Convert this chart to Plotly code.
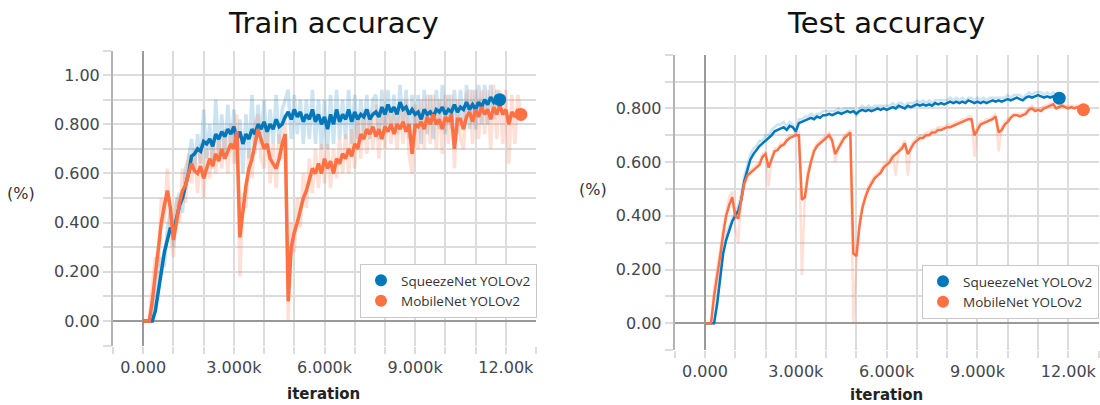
import plotly.graph_objects as go

# ---- data -----------------------------------------------------------------
STEP = 100  # iterations between logged points

# Train accuracy, SqueezeNet YOLOv2 (smoothed / raw)
train_sq_smooth = [
    0.00, 0.00, 0.00, 0.00, 0.04, 0.12, 0.22, 0.28, 0.33, 0.38,
    0.36, 0.42, 0.47, 0.50, 0.55, 0.60, 0.67, 0.68, 0.70, 0.69,
    0.73, 0.72, 0.74, 0.71, 0.76, 0.74, 0.77, 0.75, 0.78, 0.76,
    0.79, 0.74, 0.77, 0.72, 0.76, 0.74, 0.78, 0.76, 0.80, 0.78,
    0.81, 0.77, 0.80, 0.78, 0.82, 0.79, 0.80, 0.83, 0.85, 0.82,
    0.86, 0.83, 0.85, 0.81, 0.84, 0.82, 0.86, 0.81, 0.84, 0.80,
    0.83, 0.78, 0.84, 0.80, 0.86, 0.81, 0.84, 0.82, 0.86, 0.81,
    0.85, 0.82, 0.84, 0.83, 0.86, 0.82, 0.84, 0.85, 0.83, 0.87,
    0.84, 0.88, 0.85, 0.87, 0.84, 0.89, 0.86, 0.87, 0.84, 0.86,
    0.84, 0.85, 0.82, 0.86, 0.84, 0.85, 0.83, 0.86, 0.85, 0.87,
    0.84, 0.86, 0.85, 0.88, 0.85, 0.87, 0.86, 0.89, 0.86, 0.88,
    0.86, 0.89, 0.87, 0.90, 0.88, 0.91, 0.89, 0.91, 0.90,
]
train_sq_raw = [
    0.00, 0.00, 0.00, 0.00, 0.08, 0.18, 0.26, 0.22, 0.38, 0.44,
    0.30, 0.48, 0.52, 0.44, 0.62, 0.66, 0.74, 0.62, 0.76, 0.64,
    0.86, 0.66, 0.80, 0.62, 0.90, 0.68, 0.84, 0.66, 0.88, 0.70,
    0.86, 0.64, 0.82, 0.60, 0.84, 0.66, 0.92, 0.68, 0.88, 0.72,
    0.90, 0.70, 0.86, 0.72, 0.92, 0.72, 0.86, 0.90, 0.94, 0.74,
    0.92, 0.76, 0.90, 0.72, 0.90, 0.74, 0.94, 0.72, 0.90, 0.70,
    0.90, 0.70, 0.92, 0.72, 0.94, 0.74, 0.90, 0.74, 0.94, 0.72,
    0.92, 0.74, 0.90, 0.76, 0.92, 0.74, 0.90, 0.92, 0.74, 0.94,
    0.76, 0.94, 0.78, 0.92, 0.76, 0.96, 0.78, 0.94, 0.74, 0.92,
    0.76, 0.92, 0.72, 0.94, 0.76, 0.92, 0.74, 0.94, 0.78, 0.96,
    0.76, 0.92, 0.78, 0.94, 0.76, 0.94, 0.78, 0.96, 0.78, 0.94,
    0.78, 0.96, 0.80, 0.96, 0.80, 0.96, 0.82, 0.94, 0.88,
]

# Train accuracy, MobileNet YOLOv2 (smoothed / raw)
train_mb_smooth = [
    0.00, 0.00, 0.00, 0.08, 0.18, 0.30, 0.40, 0.47, 0.53, 0.46,
    0.33, 0.40, 0.48, 0.53, 0.55, 0.60, 0.64, 0.61, 0.60, 0.63,
    0.58, 0.62, 0.66, 0.63, 0.68, 0.65, 0.70, 0.66, 0.69, 0.72,
    0.70, 0.77, 0.34, 0.45, 0.55, 0.62, 0.66, 0.72, 0.78, 0.74,
    0.70, 0.72, 0.66, 0.64, 0.62, 0.66, 0.72, 0.76, 0.08, 0.30,
    0.36, 0.40, 0.45, 0.50, 0.53, 0.57, 0.62, 0.60, 0.64, 0.60,
    0.66, 0.62, 0.65, 0.60, 0.66, 0.64, 0.68, 0.66, 0.70, 0.67,
    0.72, 0.70, 0.76, 0.74, 0.78, 0.76, 0.79, 0.75, 0.78, 0.74,
    0.79, 0.77, 0.80, 0.76, 0.80, 0.78, 0.81, 0.77, 0.80, 0.68,
    0.80, 0.79, 0.81, 0.78, 0.83, 0.80, 0.84, 0.80, 0.82, 0.78,
    0.83, 0.81, 0.84, 0.70, 0.82, 0.82, 0.78, 0.83, 0.85, 0.81,
    0.86, 0.83, 0.87, 0.84, 0.86, 0.82, 0.87, 0.84, 0.88, 0.84,
    0.86, 0.80, 0.85, 0.83, 0.86, 0.84,
]
train_mb_raw = [
    0.00, 0.00, 0.00, 0.14, 0.26, 0.22, 0.50, 0.40, 0.62, 0.36,
    0.26, 0.50, 0.40, 0.62, 0.48, 0.68, 0.56, 0.70, 0.52, 0.72,
    0.50, 0.70, 0.58, 0.74, 0.60, 0.76, 0.62, 0.78, 0.60, 0.80,
    0.64, 0.84, 0.18, 0.52, 0.46, 0.70, 0.58, 0.80, 0.84, 0.66,
    0.62, 0.80, 0.56, 0.72, 0.54, 0.76, 0.66, 0.84, 0.00, 0.40,
    0.28, 0.50, 0.38, 0.60, 0.46, 0.66, 0.52, 0.70, 0.54, 0.72,
    0.56, 0.72, 0.54, 0.70, 0.58, 0.74, 0.60, 0.76, 0.60, 0.78,
    0.62, 0.84, 0.66, 0.86, 0.68, 0.86, 0.70, 0.88, 0.66, 0.86,
    0.70, 0.88, 0.72, 0.86, 0.70, 0.88, 0.72, 0.90, 0.68, 0.60,
    0.88, 0.70, 0.90, 0.70, 0.92, 0.72, 0.92, 0.70, 0.90, 0.68,
    0.92, 0.72, 0.92, 0.62, 0.90, 0.74, 0.70, 0.92, 0.94, 0.72,
    0.94, 0.74, 0.94, 0.76, 0.94, 0.70, 0.96, 0.74, 0.94, 0.72,
    0.94, 0.64, 0.92, 0.72, 0.92, 0.84,
]

# Test accuracy, SqueezeNet YOLOv2 (smoothed / raw)
test_sq_smooth = [
    0.00, 0.00, 0.00, 0.00, 0.07, 0.17, 0.26, 0.31, 0.35, 0.38,
    0.40, 0.42, 0.46, 0.53, 0.57, 0.61, 0.63, 0.645, 0.66, 0.67,
    0.68, 0.69, 0.70, 0.715, 0.72, 0.725, 0.73, 0.72, 0.735, 0.73,
    0.715, 0.745, 0.75, 0.755, 0.76, 0.765, 0.76, 0.77, 0.765, 0.775,
    0.775, 0.78, 0.775, 0.78, 0.785, 0.78, 0.785, 0.79, 0.785, 0.79,
    0.78, 0.79, 0.795, 0.79, 0.795, 0.79, 0.795, 0.80, 0.795, 0.80,
    0.795, 0.80, 0.805, 0.80, 0.81, 0.805, 0.80, 0.81, 0.805, 0.81,
    0.815, 0.81, 0.815, 0.81, 0.815, 0.81, 0.82, 0.815, 0.82, 0.815,
    0.82, 0.825, 0.82, 0.825, 0.82, 0.825, 0.82, 0.83, 0.825, 0.82,
    0.825, 0.82, 0.825, 0.82, 0.825, 0.83, 0.825, 0.83, 0.825, 0.83,
    0.835, 0.83, 0.835, 0.84, 0.835, 0.83, 0.84, 0.845, 0.84, 0.845,
    0.85, 0.845, 0.84, 0.845, 0.84, 0.845, 0.84, 0.838,
]
test_sq_raw = [
    0.00, 0.00, 0.00, 0.00, 0.10, 0.20, 0.28, 0.33, 0.36, 0.39,
    0.41, 0.44, 0.48, 0.55, 0.59, 0.63, 0.65, 0.66, 0.68, 0.68,
    0.70, 0.70, 0.72, 0.73, 0.74, 0.74, 0.75, 0.73, 0.75, 0.74,
    0.70, 0.76, 0.76, 0.77, 0.77, 0.78, 0.77, 0.78, 0.78, 0.79,
    0.79, 0.79, 0.79, 0.79, 0.80, 0.79, 0.80, 0.80, 0.80, 0.80,
    0.77, 0.80, 0.81, 0.80, 0.81, 0.80, 0.81, 0.81, 0.81, 0.81,
    0.81, 0.81, 0.82, 0.81, 0.82, 0.82, 0.81, 0.82, 0.82, 0.82,
    0.83, 0.82, 0.83, 0.82, 0.83, 0.82, 0.83, 0.83, 0.83, 0.83,
    0.83, 0.84, 0.83, 0.84, 0.83, 0.84, 0.83, 0.84, 0.84, 0.83,
    0.84, 0.83, 0.84, 0.83, 0.84, 0.84, 0.84, 0.84, 0.84, 0.84,
    0.85, 0.84, 0.85, 0.85, 0.85, 0.84, 0.85, 0.86, 0.85, 0.86,
    0.86, 0.86, 0.85, 0.86, 0.85, 0.86, 0.85, 0.85,
]

# Test accuracy, MobileNet YOLOv2 (smoothed / raw)
test_mb_smooth = [
    0.00, 0.00, 0.00, 0.10, 0.17, 0.25, 0.33, 0.40, 0.44, 0.47,
    0.40, 0.39, 0.46, 0.52, 0.55, 0.56, 0.57, 0.58, 0.59, 0.62,
    0.63, 0.58, 0.61, 0.64, 0.645, 0.66, 0.665, 0.68, 0.69, 0.695,
    0.70, 0.70, 0.46, 0.47, 0.55, 0.60, 0.64, 0.66, 0.67, 0.68,
    0.69, 0.70, 0.68, 0.63, 0.65, 0.67, 0.69, 0.70, 0.71, 0.26,
    0.25, 0.36, 0.43, 0.47, 0.50, 0.52, 0.54, 0.55, 0.56, 0.58,
    0.59, 0.60, 0.62, 0.63, 0.64, 0.65, 0.67, 0.63, 0.65, 0.67,
    0.68, 0.69, 0.69, 0.70, 0.70, 0.71, 0.71, 0.72, 0.72, 0.725,
    0.73, 0.73, 0.735, 0.74, 0.745, 0.75, 0.755, 0.76, 0.76, 0.70,
    0.72, 0.74, 0.745, 0.75, 0.755, 0.76, 0.77, 0.71, 0.72, 0.74,
    0.75, 0.765, 0.775, 0.775, 0.77, 0.775, 0.78, 0.795, 0.80, 0.79,
    0.795, 0.79, 0.80, 0.805, 0.81, 0.815, 0.80, 0.805, 0.81, 0.805,
    0.80, 0.805, 0.80, 0.805, 0.80, 0.795,
]
test_mb_raw = [
    0.00, 0.00, 0.00, 0.13, 0.20, 0.27, 0.36, 0.42, 0.47, 0.49,
    0.36, 0.30, 0.48, 0.53, 0.56, 0.57, 0.58, 0.59, 0.60, 0.63,
    0.64, 0.51, 0.62, 0.65, 0.65, 0.67, 0.67, 0.69, 0.70, 0.70,
    0.71, 0.71, 0.18, 0.48, 0.57, 0.61, 0.65, 0.67, 0.68, 0.69,
    0.70, 0.71, 0.69, 0.60, 0.66, 0.68, 0.70, 0.71, 0.72, 0.00,
    0.22, 0.38, 0.44, 0.48, 0.51, 0.53, 0.55, 0.56, 0.57, 0.59,
    0.60, 0.61, 0.63, 0.55, 0.65, 0.66, 0.68, 0.55, 0.66, 0.68,
    0.69, 0.70, 0.70, 0.71, 0.71, 0.72, 0.72, 0.73, 0.73, 0.73,
    0.74, 0.74, 0.74, 0.75, 0.75, 0.76, 0.76, 0.77, 0.77, 0.62,
    0.73, 0.75, 0.75, 0.76, 0.76, 0.77, 0.78, 0.64, 0.73, 0.75,
    0.76, 0.77, 0.78, 0.78, 0.78, 0.78, 0.79, 0.80, 0.81, 0.80,
    0.80, 0.80, 0.81, 0.81, 0.82, 0.82, 0.81, 0.81, 0.82, 0.81,
    0.81, 0.81, 0.81, 0.81, 0.81, 0.80,
]

x_tickvals = [0, 3000, 6000, 9000, 12000]
x_ticktext = ["0.000", "3.000k", "6.000k", "9.000k", "12.00k"]
y_tickvals = [0.0, 0.2, 0.4, 0.6, 0.8, 1.0]
y_ticktext_train = ["0.00", "0.200", "0.400", "0.600", "0.800", "1.00"]
y_ticktext_test = ["0.00", "0.200", "0.400", "0.600", "0.800"]

series_names = ["SqueezeNet YOLOv2", "MobileNet YOLOv2"]

# ---- style ----------------------------------------------------------------
BLUE = "#0077bb"
ORANGE = "#ff7043"
BLUE_FAINT = "rgba(0,119,187,0.20)"
ORANGE_FAINT = "rgba(255,112,67,0.22)"
GRID = "#dcdcdc"
TICK_FONT = dict(family="DejaVu Sans", size=16, color="#45454f")
W, H = 1100, 405


def steps(values):
    return [i * STEP for i in range(len(values))]


fig = go.Figure()


def add_panel(xa, ya, legend_id, sq_raw, sq_smooth, mb_raw, mb_smooth, width):
    # faint raw curves underneath
    for raw, col in ((sq_raw, BLUE_FAINT), (mb_raw, ORANGE_FAINT)):
        fig.add_trace(go.Scatter(
            x=steps(raw), y=raw, mode="lines", xaxis=xa, yaxis=ya,
            line=dict(color=col, width=width), showlegend=False, hoverinfo="skip"))
    # smoothed curves
    for sm, col in ((sq_smooth, BLUE), (mb_smooth, ORANGE)):
        fig.add_trace(go.Scatter(
            x=steps(sm), y=sm, mode="lines", xaxis=xa, yaxis=ya,
            line=dict(color=col, width=width), showlegend=False))
    # last-point dots, which also carry the legend entries
    for sm, col, name in ((sq_smooth, BLUE, series_names[0]),
                          (mb_smooth, ORANGE, series_names[1])):
        fig.add_trace(go.Scatter(
            x=[steps(sm)[-1]], y=[sm[-1]], mode="markers", xaxis=xa, yaxis=ya,
            marker=dict(color=col, size=13), name=name, legend=legend_id))


add_panel("x", "y", "legend", train_sq_raw, train_sq_smooth,
          train_mb_raw, train_mb_smooth, 3.5)
add_panel("x2", "y2", "legend2", test_sq_raw, test_sq_smooth,
          test_mb_raw, test_mb_smooth, 2.5)


def xaxis(domain):
    return dict(
        domain=domain, range=[-1000, 13000],
        tickvals=x_tickvals, ticktext=x_ticktext, tickfont=TICK_FONT,
        showgrid=True, gridcolor=GRID, gridwidth=1.5,
        ticks="outside", ticklen=7, tickcolor=GRID, tickwidth=1.5,
        minor=dict(dtick=1000, tick0=0, showgrid=True, gridcolor=GRID, gridwidth=1.5,
                   ticks="outside", ticklen=7, tickcolor=GRID, tickwidth=1.5),
        zeroline=True, zerolinecolor="#9a9a9a", zerolinewidth=2,
        showline=False, fixedrange=True,
    )


def yaxis(domain, yrange, ticktext, anchor):
    return dict(
        domain=domain, range=yrange, anchor=anchor,
        tickvals=y_tickvals[:len(ticktext)], ticktext=ticktext, tickfont=TICK_FONT,
        showgrid=True, gridcolor=GRID, gridwidth=1.5,
        ticks="outside", ticklen=8, tickcolor=GRID, tickwidth=1.5,
        minor=dict(dtick=0.1, tick0=0, showgrid=True, gridcolor=GRID, gridwidth=1.5,
                   ticks="outside", ticklen=8, tickcolor=GRID, tickwidth=1.5),
        zeroline=True, zerolinecolor="#9a9a9a", zerolinewidth=2,
        showline=True, linecolor="#b4b4b4", linewidth=2, fixedrange=True,
    )


legend_style = dict(
    xanchor="left", yanchor="top", bgcolor="white",
    bordercolor="#c8c8c8", borderwidth=1, itemsizing="constant",
    font=dict(family="Open Sans", size=13.5, color="#333"), tracegroupgap=0,
)

fig.update_layout(
    width=W, height=H, margin=dict(l=0, r=0, t=0, b=0),
    paper_bgcolor="white", plot_bgcolor="white",
    xaxis=xaxis([113 / W, 536 / W]),
    yaxis=yaxis([1 - 345.6 / H, 1 - 50.5 / H], [-0.1, 1.1], y_ticktext_train, "x"),
    xaxis2=xaxis([674.7 / W, 1098.6 / W]) | dict(anchor="y2"),
    yaxis2=yaxis([1 - 350.2 / H, 1 - 54.7 / H], [-0.1, 1.0], y_ticktext_test, "x2"),
    legend=legend_style | dict(x=360 / W, y=1 - 264 / H),
    legend2=legend_style | dict(x=922 / W, y=1 - 265 / H),
    showlegend=True,
)

annotations = [
    ("Train accuracy", 333, 23, dict(family="DejaVu Sans", size=29, color="#111")),
    ("Test accuracy", 886, 23, dict(family="DejaVu Sans", size=29, color="#111")),
    ("(%)", 21, 193, dict(family="DejaVu Sans", size=16, color="#333")),
    ("(%)", 593, 189, dict(family="DejaVu Sans", size=16, color="#333")),
    ("<b>iteration</b>", 323, 394, dict(family="DejaVu Sans", size=15, color="#222")),
    ("<b>iteration</b>", 886, 395, dict(family="DejaVu Sans", size=15, color="#222")),
]
for text, px, py, font in annotations:
    fig.add_annotation(text=text, x=px / W, y=1 - py / H, xref="paper", yref="paper",
                       xanchor="center", yanchor="middle", showarrow=False, font=font)

fig.write_html("out.html")
